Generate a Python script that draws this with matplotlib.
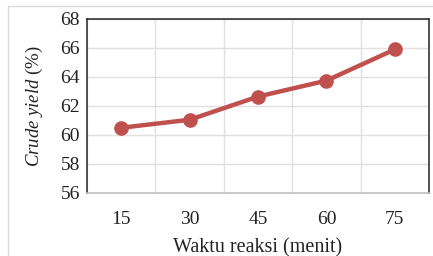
import numpy as np
import matplotlib.pyplot as plt
from matplotlib.patches import Rectangle

# Reaction time (minutes) vs crude yield
waktu = ['15', '30', '45', '60', '75']
crude_yield = [60.5, 61.05, 62.65, 63.75, 65.9]

plt.rcParams['font.family'] = 'Liberation Serif'
plt.rcParams['mathtext.fontset'] = 'custom'
plt.rcParams['mathtext.it'] = 'Liberation Serif:italic'
plt.rcParams['mathtext.rm'] = 'Liberation Serif'

W, H = 433, 256
fig = plt.figure(figsize=(W / 100, H / 100), dpi=100)
ax = fig.add_axes([87 / W, 1 - 193 / H, (429 - 87) / W, (193 - 19) / H])

# light chart-area border like the spreadsheet export
fig.patches.append(Rectangle((8 / W, -0.1), 1.2, 1 - 6 / H + 0.1, transform=fig.transFigure,
                             fill=False, edgecolor='#d9d9d9', linewidth=1))

x = np.arange(len(waktu))
ax.plot(x, crude_yield, color='#C0504D', linewidth=3.2, marker='o', markersize=9.5, zorder=3)

ax.set_xlim(-0.5, len(waktu) - 0.5)
ax.set_ylim(56, 68)
ax.set_yticks(np.arange(56, 69, 2))
ax.set_xticks(x)
ax.set_xticklabels(waktu)
ax.set_xticks(np.arange(-0.5, len(waktu), 0.5), minor=True)
ax.grid(True, which='minor', axis='x', color='#e0e0e0', linewidth=1)
ax.grid(True, which='major', axis='y', color='#e0e0e0', linewidth=1)
ax.set_axisbelow(True)

ax.tick_params(which='both', length=0, labelsize=14, colors='#222222')
ax.tick_params(axis='x', pad=13)
ax.tick_params(axis='y', pad=5)

for side in ['left', 'top', 'right']:
    ax.spines[side].set_color('#333333')
    ax.spines[side].set_linewidth(1.2)
ax.spines['bottom'].set_color('#bfbfbf')
ax.spines['bottom'].set_linewidth(1.2)

ax.set_ylabel(r'$\it{Crude\ yield}$ (%)', fontsize=13.5, color='#222222', labelpad=11)
ax.set_xlabel('Waktu reaksi (menit)', fontsize=14.5, color='#222222', labelpad=7)

fig.savefig('out.png', dpi=100)
